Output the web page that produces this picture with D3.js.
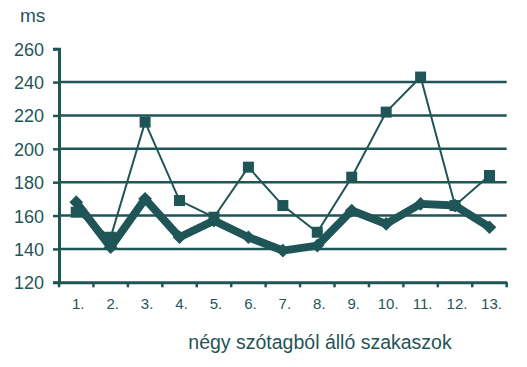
<!DOCTYPE html>
<html>
<head>
<meta charset="utf-8">
<script src="https://cdn.jsdelivr.net/npm/d3@7"></script>
<style>
  body { margin: 0; background: #fff; overflow: hidden; }
  svg { display: block; overflow: visible; }
  svg text { font-family: "Liberation Sans", Arial, sans-serif; fill: #1f5557; }
</style>
</head>
<body>
<div id="chart"></div>
<script>
// Data
const categories = ["1.", "2.", "3.", "4.", "5.", "6.", "7.", "8.", "9.", "10.", "11.", "12.", "13."];
const seriesSquares = [162, 147, 216, 169, 159, 189, 166, 150, 183, 222, 243, 166, 184];
const seriesDiamonds = [168, 141, 170, 147, 157, 147, 139, 142, 163, 155, 167, 166, 153];
const yTicks = [120, 140, 160, 180, 200, 220, 240, 260];

const color = "#1f5557";
const width = 527, height = 367;
const margin = { top: 48.7, right: 20.3, bottom: 84.7, left: 59 };
const innerWidth = width - margin.left - margin.right;
const innerHeight = height - margin.top - margin.bottom;

const svg = d3.select("#chart")
  .append("svg")
    .attr("width", width)
    .attr("height", height);

const g = svg.append("g")
  .attr("transform", `translate(${margin.left}, ${margin.top})`);

const xScale = d3.scaleBand()
  .domain(categories)
  .range([0, innerWidth])
  .padding(0);

const yScale = d3.scaleLinear()
  .domain([120, 260])
  .range([innerHeight, 0]);

// GRID (no line at 260)
g.selectAll(".grid-line")
  .data(yTicks.filter(d => d > 120 && d < 260))
  .enter()
  .append("line")
    .attr("x1", 0)
    .attr("x2", innerWidth)
    .attr("y1", d => yScale(d))
    .attr("y2", d => yScale(d))
    .attr("stroke", color)
    .attr("stroke-width", 2.5);

// Y-AXIS
const yAxis = g.append("g")
  .call(d3.axisLeft(yScale).tickValues(yTicks).tickSize(6).tickPadding(9));
yAxis.select(".domain").attr("stroke", color).attr("stroke-width", 3);
yAxis.selectAll(".tick line").attr("stroke", color).attr("stroke-width", 2.5);
yAxis.selectAll(".tick text")
  .style("font-size", "18px")
  .attr("dy", "0.36em")
  .attr("fill", color);

// X-AXIS
const xAxis = g.append("g")
  .attr("transform", `translate(0, ${innerHeight})`)
  .call(d3.axisBottom(xScale).tickSize(0).tickPadding(16));
xAxis.select(".domain").attr("stroke", color).attr("stroke-width", 3);
xAxis.selectAll(".tick text")
  .style("font-size", "15px")
  .attr("dx", "2px")
  .attr("fill", color);

// x tick marks at band boundaries
const boundaries = categories.map(c => xScale(c)).concat([innerWidth]);
g.selectAll(".x-tick")
  .data(boundaries)
  .enter()
  .append("line")
    .attr("x1", d => d)
    .attr("x2", d => d)
    .attr("y1", innerHeight)
    .attr("y2", innerHeight + 5)
    .attr("stroke", color)
    .attr("stroke-width", 2.5);

const cx = d => xScale(d) + xScale.bandwidth() / 2;

// Thick line with diamonds
const line = d3.line()
  .x((d, i) => cx(categories[i]))
  .y(d => yScale(d));

g.append("path")
  .datum(seriesDiamonds)
  .attr("fill", "none")
  .attr("stroke", color)
  .attr("stroke-width", 8)
  .attr("stroke-linejoin", "round")
  .attr("d", line);

g.selectAll(".diamond")
  .data(seriesDiamonds)
  .enter()
  .append("path")
    .attr("d", d3.symbol().type(d3.symbolDiamond2).size(120))
    .attr("transform", (d, i) => `translate(${cx(categories[i])}, ${yScale(d)})`)
    .attr("fill", color);

// Thin line with squares
g.append("path")
  .datum(seriesSquares)
  .attr("fill", "none")
  .attr("stroke", color)
  .attr("stroke-width", 2)
  .attr("d", line);

g.selectAll(".square")
  .data(seriesSquares)
  .enter()
  .append("rect")
    .attr("x", (d, i) => cx(categories[i]) - 5.5)
    .attr("y", d => yScale(d) - 5.5)
    .attr("width", 11)
    .attr("height", 11)
    .attr("fill", color);

// Labels
svg.append("text")
  .attr("x", 20)
  .attr("y", 22)
  .style("font-size", "19px")
  .text("ms");

svg.append("text")
  .attr("x", 320)
  .attr("y", 349)
  .attr("text-anchor", "middle")
  .style("font-size", "19.5px")
  .text("négy szótagból álló szakaszok");
</script>
</body>
</html>
